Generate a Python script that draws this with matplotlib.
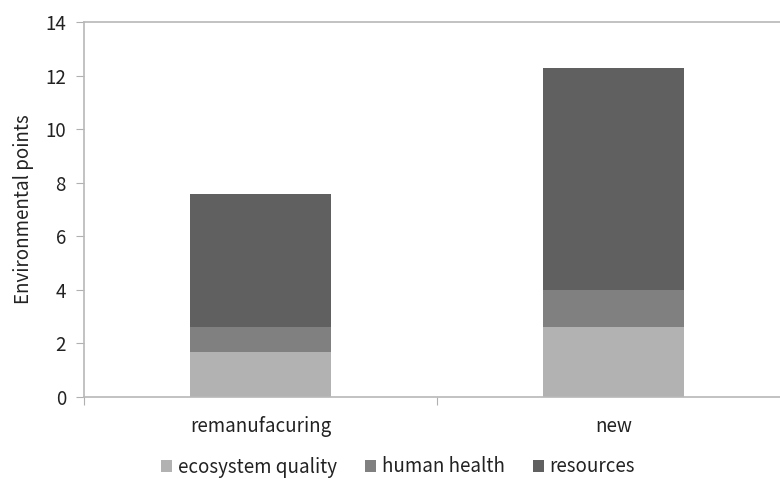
import matplotlib
matplotlib.use("Agg")
import matplotlib.pyplot as plt
import numpy as np

plt.rcParams['font.family'] = ['Noto Sans CJK KR', 'DejaVu Sans']

categories = ["remanufacuring", "new"]
ecosystem_quality = [1.68, 2.62]
human_health = [0.92, 1.38]
resources = [4.98, 8.27]
series_names = ["ecosystem quality", "human health", "resources"]
colors = ["#b2b2b2", "#808080", "#606060"]

fig = plt.figure(figsize=(7.8, 4.79), dpi=100)
ax = fig.add_axes([84 / 780, 82 / 479, 706 / 780, 375 / 479])

x = np.arange(len(categories))
bottom = np.zeros(len(categories))
for vals, name, c in zip([ecosystem_quality, human_health, resources], series_names, colors):
    ax.bar(x, vals, width=0.4, bottom=bottom, color=c, label=name, zorder=2)
    bottom += np.array(vals)

ax.set_xlim(-0.5, 1.5)
ax.set_ylim(0, 14)
ax.set_yticks(np.arange(0, 15, 2))
ax.set_xticks([-0.5, 0.5, 1.5])
ax.set_xticklabels([])
ax.set_xticks(x, minor=True)
ax.set_xticklabels(categories, minor=True)
ax.tick_params(axis='x', which='minor', length=0, pad=14, labelsize=13.5, colors='#222222')
ax.tick_params(axis='x', which='major', length=6, color='#b0b0b0', direction='out')
ax.tick_params(axis='y', length=6, color='#b0b0b0', labelsize=13.5, labelcolor='#222222', pad=7)

for side in ['left', 'bottom', 'top']:
    ax.spines[side].set_color('#b8b8b8')
    ax.spines[side].set_linewidth(1.2)
ax.spines['right'].set_visible(False)

ax.set_ylabel("Environmental points", fontsize=13.5, color='#222222', labelpad=8)

leg = fig.legend(loc='center', bbox_to_anchor=(398 / 780, 1 - 467 / 479), ncol=3,
                 frameon=False, fontsize=13.5, handlelength=0.6, handleheight=0.6,
                 handletextpad=0.3, columnspacing=1.5)
for t in leg.get_texts():
    t.set_color('#222222')

fig.savefig("out.png", dpi=100)
